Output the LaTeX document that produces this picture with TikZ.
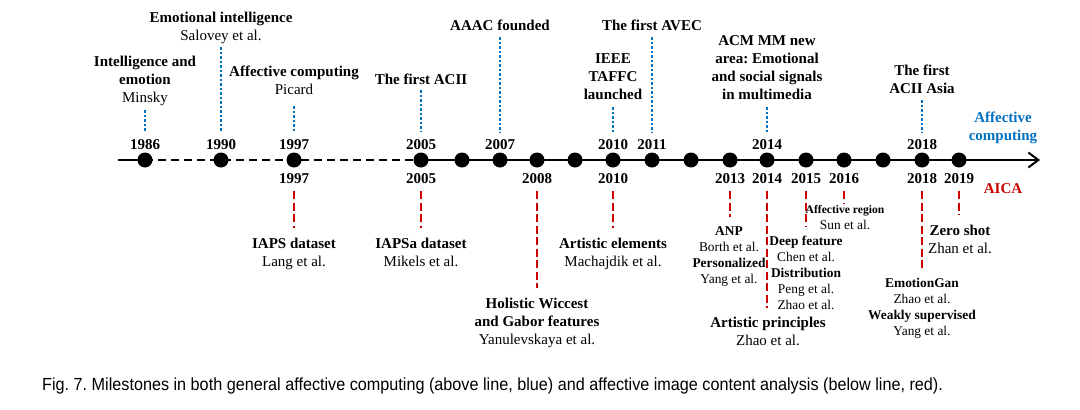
\documentclass[tikz,border=0pt]{standalone}
\usepackage{fontspec}
\setmainfont{Liberation Serif}
\newfontfamily\capfont{Liberation Sans}
\usetikzlibrary{arrows.meta}
\definecolor{acblue}{RGB}{0,112,192}
\definecolor{aicared}{RGB}{204,0,0}
\frenchspacing
\tikzset{
  big/.style={font=\fontsize{15}{18}\selectfont, align=center, inner sep=0pt, anchor=north},
  bigb/.style={big, font=\fontsize{15}{18}\selectfont\bfseries},
  small/.style={font=\fontsize{13.4}{16}\selectfont, align=center, inner sep=0pt, anchor=north},
  yr/.style={font=\fontsize{15}{18}\selectfont\bfseries, inner sep=0pt},
  dot/.style={circle, fill=black, minimum size=15pt, inner sep=0pt},
  aff/.style={acblue, line width=2.5pt, dash pattern=on 2.5pt off 2pt},
  aica/.style={aicared, line width=2.6pt, dash pattern=on 8pt off 3.5pt},
  axis/.style={line width=2.5pt},
}
\begin{document}
\begin{tikzpicture}[x=1pt,y=-1pt]
\useasboundingbox (0,0) rectangle (1080,410);

% axis and dots
\coordinate (lstart) at (118,160);
\coordinate (lend) at (1040,160);
\coordinate (p1986) at (145,160);
\coordinate (p2005) at (421,160);
\draw[axis] (lstart) -- (p1986);
\draw[axis, dash pattern=on 8pt off 5pt] (p1986) -- (p2005);
\draw[axis, -{Straight Barb[length=10pt,width=15pt,line width=2pt]}] (p2005) -- (lend);
\foreach \n/\x in {1986/145,1990/221,1997/294,2005/421,2006/462,2007/500,2008/537,2009/575,2010/613,2011/652,2012/691,2013/730,2014/767,2015/806,2016/844,2017/883,2018/922,2019/959}
  \node[dot] (d\n) at (\x,160) {};

% years above
\foreach \n/\x in {1986/145,1990/221,1997/294,2005/421,2007/500,2010/613,2011/652,2014/767,2018/922}
  \node[yr] (ya\n) at (\x,145) {\n};
% years below
\foreach \n/\x in {1997/294,2005/421,2008/537,2010/613,2013/730,2014/767,2015/806,2016/844,2018/922,2019/959}
  \node[yr] (yb\n) at (\x,179) {\n};

% above texts
\node[big] (t1986) at (145,56) {\textbf{Intelligence and}\\\textbf{emotion}\\Minsky};
\node[big] (t1990) at (221,12) {\textbf{Emotional intelligence}\\Salovey et al.};
\node[big] (t1997) at (294,66) {\textbf{Affective computing}\\Picard};
\node[bigb] (t2005) at (421,74) {The first ACII};
\node[bigb] (t2007) at (500,20) {AAAC founded};
\node[bigb] (t2010) at (613,53) {IEEE\\TAFFC\\launched};
\node[bigb] (t2011) at (652,20) {The first AVEC};
\node[bigb] (t2014) at (767,35) {ACM MM new\\area: Emotional\\and social signals\\in multimedia};
\node[bigb] (t2018) at (922,65) {The first\\ACII Asia};
\node[bigb, text=acblue] (ac) at (1003,112) {Affective\\computing};

\draw[aff] (145,110) -- (145,132);
\draw[aff] (221,47) -- (221,132);
\draw[aff] (294,106) -- (294,132);
\draw[aff] (421,90) -- (421,132);
\draw[aff] (500,37) -- (500,132);
\draw[aff] (613,107) -- (613,132);
\draw[aff] (652,37) -- (652,132);
\draw[aff] (767,107) -- (767,132);
\draw[aff] (922,100) -- (922,132);

% below texts
\node[yr, text=aicared] (aica) at (1003,189) {AICA};
\node[big] (b1997) at (294,238) {\textbf{IAPS dataset}\\Lang et al.};
\node[big] (b2005) at (421,238) {\textbf{IAPSa dataset}\\Mikels et al.};
\node[big] (b2008) at (537,298) {\textbf{Holistic Wiccest}\\\textbf{and Gabor features}\\Yanulevskaya et al.};
\node[big] (b2010) at (613,238) {\textbf{Artistic elements}\\Machajdik et al.};
\node[small] (b2013) at (729,226.5) {\textbf{ANP}\\Borth et al.\\\textbf{Personalized}\\Yang et al.};
\node[big] (b2014) at (768,317) {\textbf{Artistic principles}\\Zhao et al.};
\node[small] (b2015) at (806,235.5) {\textbf{Deep feature}\\Chen et al.\\\textbf{Distribution}\\Peng et al.\\Zhao et al.};
\node[small] (b2016) at (845,205.5) {{\fontsize{11.6}{13}\selectfont\textbf{Affective region}}\\Sun et al.};
\node[small] (b2018) at (922,277.5) {\textbf{EmotionGan}\\Zhao et al.\\\textbf{Weakly supervised}\\Yang et al.};
\node[big] (b2019) at (960,224.5) {\textbf{Zero shot}\\Zhan et al.};

\draw[aica] (294,191) -- (294,228);
\draw[aica] (421,191) -- (421,228);
\draw[aica] (537,191) -- (537,288);
\draw[aica] (613,191) -- (613,228);
\draw[aica] (730,191) -- (730,217);
\draw[aica] (767,191) -- (767,308);
\draw[aica] (806,191) -- (806,227);
\draw[aica] (844,191) -- (844,204);
\draw[aica] (922,191) -- (922,268);
\draw[aica] (959,191) -- (959,215);

% caption
\node[anchor=base west, inner sep=0pt, font=\capfont\fontsize{16.2}{19}\selectfont, yscale=1.08] (cap) at (42,390)
  {Fig. 7. Milestones in both general affective computing (above line, blue) and affective image content analysis (below line, red).};
\end{tikzpicture}
\end{document}
